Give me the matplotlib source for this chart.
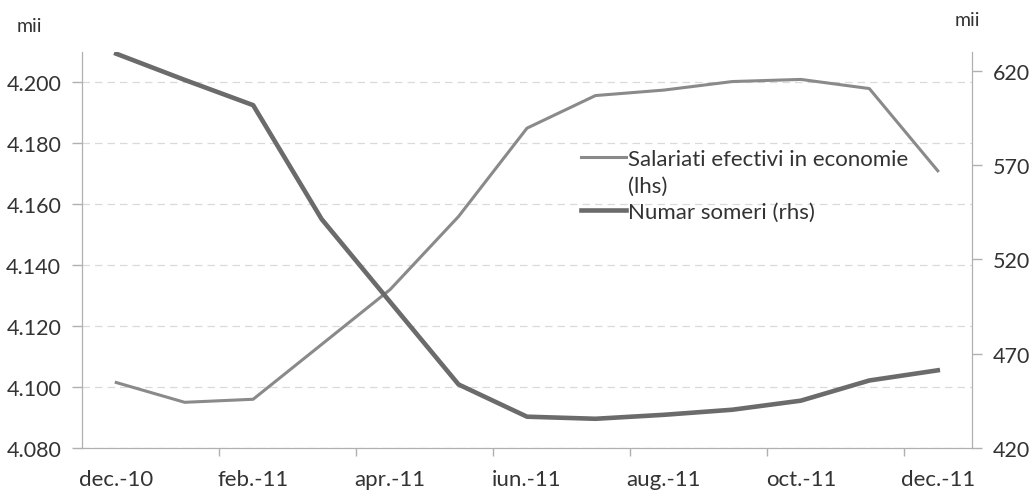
import matplotlib.pyplot as plt
from matplotlib.lines import Line2D
from matplotlib.ticker import FixedLocator, FuncFormatter

plt.rcParams['font.family'] = ['Lato', 'DejaVu Sans']

luni = ['dec.-10', 'ian.-11', 'feb.-11', 'mar.-11', 'apr.-11', 'mai.-11', 'iun.-11',
        'iul.-11', 'aug.-11', 'sep.-11', 'oct.-11', 'nov.-11', 'dec.-11']
salariati = [4.1015, 4.095, 4.096, 4.114, 4.132, 4.156, 4.185,
             4.1957, 4.1975, 4.2003, 4.201, 4.198, 4.171]
someri = [629.1, 615.2, 601.8, 541.4, 497.5, 453.7, 436.6,
          435.5, 437.6, 440.3, 445.1, 455.8, 461.2]

text_color = '#333333'
axis_color = '#b0b0b0'

fig = plt.figure(figsize=(10.32, 5.02), dpi=100)
ax = fig.add_axes([82 / 1032, 53 / 502, 890 / 1032, 396 / 502])
ax2 = ax.twinx()

x = range(len(luni))
l1, = ax.plot(x, salariati, color='#8a8a8a', linewidth=2.2, zorder=3)
l2, = ax2.plot(x, someri, color='#6b6b6b', linewidth=3.3, zorder=3)

ax.set_xlim(-0.5, len(luni) - 0.5)
ax.set_ylim(4.080, 4.210)
ax2.set_ylim(420, 630)

ax.set_yticks([4.080, 4.100, 4.120, 4.140, 4.160, 4.180, 4.200])
ax.yaxis.set_major_formatter(FuncFormatter(lambda v, p: f'{v:.3f}'))
ax2.set_yticks([420, 470, 520, 570, 620])

# labels every second month, ticks on the category boundaries
ax.set_xticks(range(0, len(luni), 2))
ax.set_xticklabels(luni[::2])
ax.xaxis.set_minor_locator(FixedLocator([k - 0.5 for k in range(2, len(luni), 2)]))
ax.tick_params(axis='x', which='major', length=0, pad=15, labelsize=16, colors=text_color)
ax.tick_params(axis='x', which='minor', length=6, width=1, color=axis_color, direction='out')
ax.tick_params(axis='y', length=7, width=1, color=axis_color, labelsize=15.5,
               labelcolor=text_color, pad=8)
ax2.tick_params(axis='y', length=7, width=1, color=axis_color, labelsize=15.5,
                labelcolor=text_color, pad=8)

ax.grid(axis='y', color='#dadada', linestyle=(0, (6, 4)), linewidth=0.9)
ax.set_axisbelow(True)

for a in (ax, ax2):
    a.spines['top'].set_visible(False)
    a.spines['left'].set_color(axis_color)
    a.spines['right'].set_color(axis_color)
    a.spines['bottom'].set_color(axis_color)

fig.text(17 / 1032, 1 - 27 / 502, 'mii', fontsize=14, color=text_color, va='center')
fig.text(955 / 1032, 1 - 20 / 502, 'mii', fontsize=14, color=text_color, va='center')

# the first label wraps onto a second line with no key
blank = Line2D([], [], linestyle='none')
leg = ax.legend(handles=[l1, blank, l2],
                labels=['Salariati efectivi in economie', '(lhs)', 'Numar someri (rhs)'],
                loc='upper left', bbox_to_anchor=(0.551, 0.778),
                frameon=False, fontsize=16, handlelength=2.0, handletextpad=0.1,
                labelspacing=0.3, borderaxespad=0)
for t in leg.get_texts():
    t.set_color(text_color)

fig.savefig('out.png', dpi=100, facecolor='white')
